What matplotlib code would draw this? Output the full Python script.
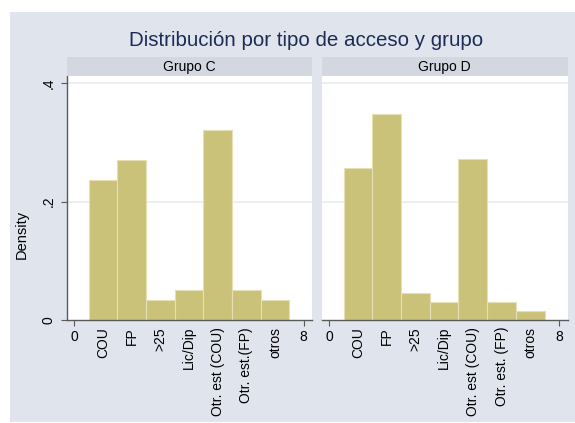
import matplotlib
matplotlib.use("Agg")
import matplotlib.pyplot as plt
from matplotlib.patches import Rectangle

plt.rcParams['font.family'] = ['Liberation Sans', 'DejaVu Sans']

positions = [1, 2, 3, 4, 5, 6, 7]
labels_c = ["COU", "FP", ">25", "Lic/Dip", "Otr. est (COU)", "Otr. est.(FP)", "otros"]
labels_d = ["COU", "FP", ">25", "Lic/Dip", "Otr. est (COU)", "Otr. est. (FP)", "otros"]
density_c = [0.236, 0.270, 0.034, 0.051, 0.321, 0.051, 0.034]
density_d = [0.257, 0.347, 0.045, 0.030, 0.272, 0.030, 0.015]
groups = ["Grupo C", "Grupo D"]
title = "Distribución por tipo de acceso y grupo"

W, H = 575, 423
fig = plt.figure(figsize=(W / 100, H / 100), dpi=100, facecolor='white')
bg = '#dfe4ed'
strip_col = '#d2d7e0'
bar_col = '#cbc27a'
fig.add_artist(Rectangle((10 / W, 1 / H), 1 - 10 / W, (422 - 12) / H,
                         transform=fig.transFigure, facecolor=bg,
                         edgecolor='none', zorder=-10))

def fx(px):
    return px / W

def fy(py):
    return 1 - py / H

panels = [(66.7, 312.3, density_c, labels_c, groups[0], True),
          (321.7, 567.7, density_d, labels_d, groups[1], False)]

for left, right, dens, labs, grp, first in panels:
    ax = fig.add_axes([fx(left), fy(320), fx(right - left), fy(76) - fy(320)])
    ax.set_facecolor('white')
    ax.bar(positions, dens, width=1.0, color=bar_col, edgecolor='#e4dfb4',
           linewidth=0.8, zorder=2)
    ax.set_xlim(-0.26, 8.3)
    ax.set_ylim(0, 0.412)
    for g in (0.2, 0.4):
        ax.axhline(g, color='#e8ecf2', lw=1.2, zorder=1)
    for s in ['top', 'right']:
        ax.spines[s].set_visible(False)
    ax.spines['bottom'].set_color('#5a5a5a')
    ax.spines['bottom'].set_linewidth(1.0)
    if first:
        ax.spines['left'].set_color('#5a5a5a')
        ax.spines['left'].set_linewidth(1.0)
        ax.set_yticks([0, 0.2, 0.4])
        ax.set_yticklabels(['0', '.2', '.4'], rotation=90, va='center',
                           fontsize=10)
        ax.tick_params(axis='y', length=4, color='#5a5a5a', pad=4)
    else:
        ax.spines['left'].set_visible(False)
        ax.set_yticks([])
    # x ticks
    ax.set_xticks([0, 8])
    ax.set_xticklabels(['0', '8'], fontsize=10)
    ax.tick_params(axis='x', length=4, color='#5a5a5a', pad=3)
    ax.set_xticks(positions, minor=True)
    ax.set_xticklabels(labs, minor=True, rotation=90, fontsize=10, va='top')
    ax.tick_params(axis='x', which='minor', length=0, pad=5)
    # strip
    sax = fig.add_axes([fx(left), fy(76), fx(right - left), fy(57) - fy(76)])
    sax.set_facecolor(strip_col)
    sax.set_xticks([])
    sax.set_yticks([])
    for s in sax.spines.values():
        s.set_visible(False)
    sax.text(0.5, 0.5, grp, ha='center', va='center', fontsize=10,
             transform=sax.transAxes)

fig.text(fx(22), fy(234), 'Density', rotation=90, ha='center', va='center',
         fontsize=10.5)
fig.text(fx(306), fy(40), title, ha='center', va='center', fontsize=14.8,
         color='#1c2c55')

fig.savefig('out.png', dpi=100, facecolor='white')
